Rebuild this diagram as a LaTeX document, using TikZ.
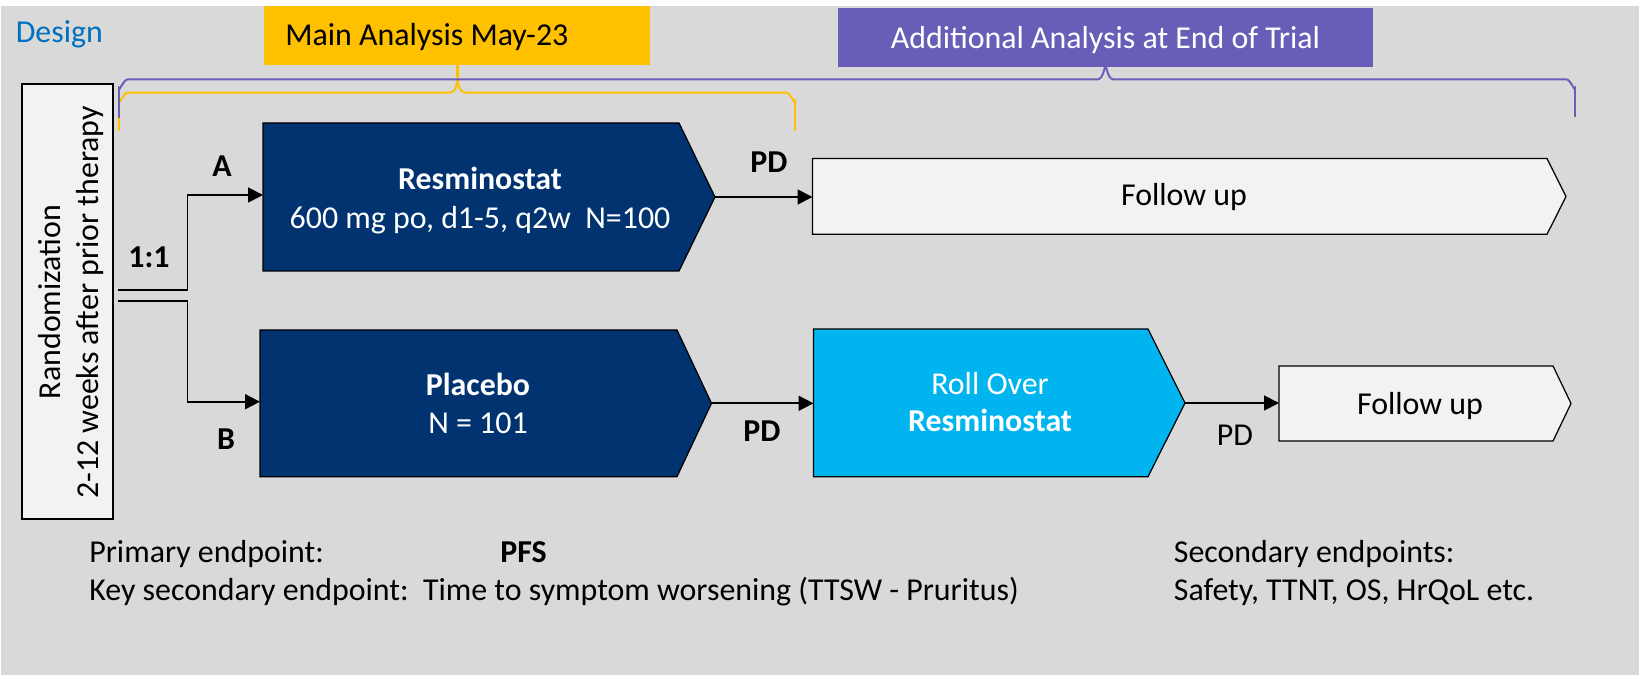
\documentclass[tikz,border=0pt]{standalone}
\usepackage{fontspec}
\setmainfont{Carlito}
\usetikzlibrary{arrows.meta}

\definecolor{bggray}{HTML}{D9D9D9}
\definecolor{navy}{HTML}{003370}
\definecolor{skyblue}{HTML}{00B4F0}
\definecolor{boxgray}{HTML}{F2F2F2}
\definecolor{gold}{HTML}{FFC000}
\definecolor{anapurple}{HTML}{685EB8}
\definecolor{designblue}{HTML}{0070C0}

\tikzset{
  txt/.style={inner sep=0pt, font=\fontsize{18.15}{21.5}\selectfont},
  outline/.style={draw=black, line width=0.7pt, line join=miter},
  brace/.style={line width=1.1pt},
  arr/.style={line width=1pt, -{Triangle[length=0.3cm, width=0.3cm]}}
}

\begin{document}
\begin{tikzpicture}[x=0.02cm, y=-0.02cm]
  \useasboundingbox (0,0) rectangle (1639,675);
  \fill[white] (0,0) rectangle (1639,675);
  \fill[bggray] (1,6) rectangle (1639,675);

  % Title
  \node[txt, text=designblue, anchor=base west] (design) at (15.5,42.3) {Design};

  % Analysis tags
  \fill[gold] (264,6) rectangle (650,65);
  \fill[anapurple] (838,8) rectangle (1373,67);
  \node[txt, anchor=base west] (mainlbl) at (285,46) {Main Analysis May-23};
  \node[txt, text=white, anchor=base] (addlbl) at (1105.5,48.3) {Additional Analysis at End of Trial};

  % Braces (yellow under purple)
  \draw[brace, gold] (119,131) -- (119,101) to[out=-90,in=180] (128,92.7)
    -- (450,92.7) to[out=0,in=90] (457.5,65) to[out=90,in=180] (465,92.7)
    -- (786,92.7) to[out=0,in=-90] (795,101) -- (795,131);
  \draw[brace, anapurple] (119,118) -- (119,88) to[out=-90,in=180] (128,79.3)
    -- (1098,79.3) to[out=0,in=90] (1105.5,67) to[out=90,in=180] (1113,79.3)
    -- (1566,79.3) to[out=0,in=-90] (1575,88) -- (1575,117);

  % Randomization box
  \draw[outline, fill=boxgray] (22,84) rectangle (113,519);
  \node[txt, rotate=90, anchor=base] (rand) at (60,302) {Randomization};
  \node[txt, rotate=90, anchor=base] (randwin) at (98.3,302.5) {2-12 weeks after prior therapy};

  % Arm shapes
  \draw[outline, fill=navy] (263,123) -- (679,123) -- (715,197) -- (679,271) -- (263,271) -- cycle;
  \draw[outline, fill=navy] (260,330) -- (677,330) -- (711.5,403.3) -- (677,476.7) -- (260,476.7) -- cycle;
  \draw[outline, fill=skyblue] (813.5,329) -- (1148,329) -- (1185,403) -- (1148,476.7) -- (813.5,476.7) -- cycle;
  \draw[outline, fill=boxgray] (812.5,158.5) -- (1547,158.5) -- (1566,196.5) -- (1547,234.3) -- (812.5,234.3) -- cycle;
  \draw[outline, fill=boxgray] (1279,366) -- (1553,366) -- (1571,403.5) -- (1553,441) -- (1279,441) -- cycle;

  % Connector ends
  \coordinate (splitA) at (118,290);
  \coordinate (splitB) at (118,301);
  \coordinate (inA) at (263,195);
  \coordinate (inB) at (260,401.7);
  \coordinate (tipA) at (715,197);
  \coordinate (tipB) at (711.5,403.3);
  \coordinate (tipRoll) at (1185,403);
  \coordinate (inFUA) at (812.5,197);
  \coordinate (inRoll) at (813.5,403.3);
  \coordinate (inFUB) at (1279,403);

  % Box texts
  \node[txt, text=white, anchor=base] (armA) at (480,190) {\textbf{Resminostat}};
  \node[txt, text=white, anchor=base] (doseA) at (480,228.3) {600 mg po, d1-5, q2w\ \ N=100};
  \node[txt, text=white, anchor=base] (armB) at (478,396) {\textbf{Placebo}};
  \node[txt, text=white, anchor=base] (nB) at (478,433) {N = 101};
  \node[txt, text=white, anchor=base] (roll) at (990,395) {Roll Over};
  \node[txt, text=white, anchor=base] (rollname) at (990,431.7) {\textbf{Resminostat}};
  \node[txt, anchor=base] (fuA) at (1184,206) {Follow up};
  \node[txt, anchor=base] (fuB) at (1420,414.3) {Follow up};

  % Arrows
  \draw[arr] (splitA) -- (187.5,290) |- (inA);
  \draw[arr] (splitB) -- (187.5,301) |- (inB);
  \draw[arr] (tipA) -- (inFUA);
  \draw[arr] (tipB) -- (inRoll);
  \draw[arr] (tipRoll) -- (inFUB);

  % Arrow labels
  \node[txt, anchor=base] (ratio) at (149,268) {\textbf{1:1}};
  \node[txt, anchor=base] (lblA) at (222,176.7) {\textbf{A}};
  \node[txt, anchor=base] (lblB) at (226,449) {\textbf{B}};
  \node[txt, anchor=base] (pdA) at (769,172.7) {\textbf{PD}};
  \node[txt, anchor=base] (pdB) at (762,441.7) {\textbf{PD}};
  \node[txt, anchor=base] (pdRoll) at (1235,445) {PD};

  % Endpoints
  \node[txt, anchor=base west] (prim) at (89,562.7) {Primary endpoint:};
  \node[txt, anchor=base west] (pfs) at (500,562.7) {\textbf{PFS}};
  \node[txt, anchor=base west] (keysec) at (89,600.7) {Key secondary endpoint:\ \ Time to symptom worsening (TTSW - Pruritus)};
  \node[txt, anchor=base west] (sec) at (1173.5,562.7) {Secondary endpoints:};
  \node[txt, anchor=base west] (seclist) at (1173.5,600.7) {Safety, TTNT, OS, HrQoL etc.};
\end{tikzpicture}
\end{document}
